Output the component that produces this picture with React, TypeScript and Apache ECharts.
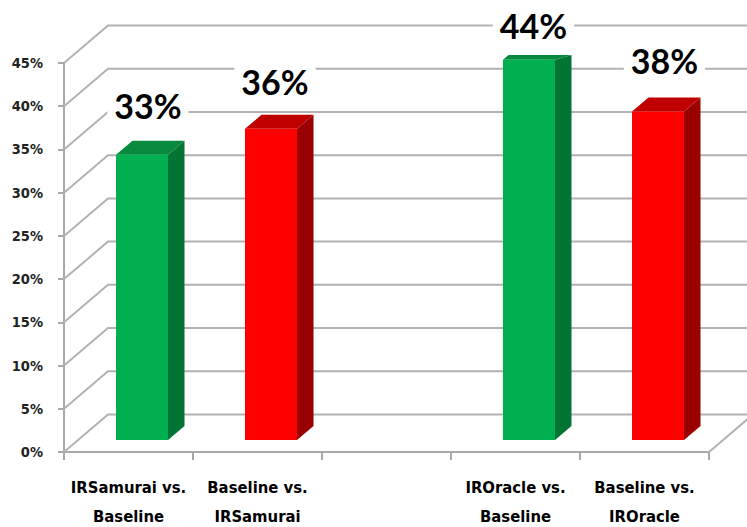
import React, { useEffect, useRef } from "react";
import * as echarts from "echarts";

const categories = [
  "IRSamurai vs.\nBaseline",
  "Baseline vs.\nIRSamurai",
  "",
  "IROracle vs.\nBaseline",
  "Baseline vs.\nIROracle",
];
const barCategoryIndex = [0, 1, 3, 4];
const barValues = [33, 36, 44, 38];
const barPalette = ["green", "red", "green", "red"];
const tickValues = [0, 5, 10, 15, 20, 25, 30, 35, 40, 45];

const SHADES: Record<string, { front: string; top: string; side: string }> = {
  green: { front: "#00b050", top: "#088a3e", side: "#027434" },
  red: { front: "#ff0000", top: "#c00000", side: "#9a0000" },
};

// Oblique projection of the 3D chart box.
const WALL_DX = 44;
const WALL_DY = -37.5;
const BAR_SHIFT_X = 13.5;
const BAR_SHIFT_Y = -12;
const BAR_WIDTH = 52;
const BAR_DX = 16.5;
const BAR_DY = -14;
const CEILING_Y = 55;
const GRID_COLOR = "#b2b2b2";
const AXIS_COLOR = "#a8a8a8";

// Hand placement of the value captions relative to each bar's front face.
const captionNudge = [
  [6, -49],
  [4, -47],
  [4.5, -34],
  [6.5, -51],
];

export default function App() {
  const ref = useRef<HTMLDivElement>(null);
  useEffect(() => {
    const chart = echarts.init(ref.current!, null, { renderer: "svg" });
    chart.setOption({
      animation: false,
      backgroundColor: "#ffffff",
      grid: { left: 64, right: 38, top: 63, bottom: 75, outerBoundsMode: "none" },
      xAxis: {
        type: "category",
        data: categories,
        axisLine: { lineStyle: { color: AXIS_COLOR, width: 2 } },
        axisTick: { show: true, alignWithLabel: false, length: 8, lineStyle: { color: AXIS_COLOR, width: 2 } },
        axisLabel: {
          interval: 0,
          margin: 21,
          color: "#000000",
          fontFamily: "'DejaVu Sans Condensed', 'DejaVu Sans'",
          fontWeight: "bold",
          fontSize: 16.5,
          lineHeight: 29,
        },
      },
      yAxis: {
        type: "value",
        min: 0,
        max: 45,
        interval: 5,
        splitLine: { show: false },
        axisLine: { show: true, lineStyle: { color: AXIS_COLOR, width: 2 } },
        axisTick: { show: true, length: 6, lineStyle: { color: AXIS_COLOR, width: 2 } },
        axisLabel: {
          margin: 21,
          color: "#222222",
          fontFamily: "'DejaVu Sans Condensed', 'DejaVu Sans'",
          fontWeight: "bold",
          fontSize: 14.5,
          padding: [5, 0, 0, 0],
          formatter: (v: number) => `${v}%`,
        },
      },
      series: [
        {
          // Side-wall diagonals and back-wall gridlines, one per tick.
          type: "custom",
          silent: true,
          z: 1,
          data: tickValues.map((v) => [0, v]),
          renderItem: (params: any, api: any) => {
            const sys = params.coordSys;
            const y = api.coord([0, api.value(1)])[1];
            const x0 = sys.x;
            const x1 = sys.x + sys.width;
            const children: any[] = [
              {
                type: "polyline",
                shape: {
                  points: [
                    [x0, y],
                    [x0 + WALL_DX, y + WALL_DY],
                    [x1 + WALL_DX, y + WALL_DY],
                  ],
                },
                style: { stroke: GRID_COLOR, lineWidth: 2, fill: "none" },
              },
            ];
            if (api.value(1) === 0) {
              children.push({
                type: "line",
                shape: { x1, y1: y, x2: x1 + WALL_DX, y2: y + WALL_DY },
                style: { stroke: GRID_COLOR, lineWidth: 2 },
              });
            }
            return { type: "group", children };
          },
        },
        {
          // Oblique bars: front face, top cap and side face.
          type: "custom",
          silent: true,
          z: 2,
          data: barValues.map((v, i) => [barCategoryIndex[i], v, i]),
          renderItem: (_params: any, api: any) => {
            const cat = api.value(0);
            const i = api.value(2);
            const shade = SHADES[barPalette[i]];
            const [cx, top0] = api.coord([cat, api.value(1)]);
            const base0 = api.coord([cat, 0])[1];
            const l = cx + BAR_SHIFT_X - BAR_WIDTH / 2;
            const r = l + BAR_WIDTH;
            const top = top0 + BAR_SHIFT_Y;
            const base = base0 + BAR_SHIFT_Y;
            const capY = Math.max(top + BAR_DY, CEILING_Y);
            const capDx = (BAR_DX * (top - capY)) / -BAR_DY;
            return {
              type: "group",
              children: [
                {
                  type: "polygon",
                  shape: { points: [[r, top], [r + BAR_DX, capY], [r + BAR_DX, base + BAR_DY], [r, base]] },
                  style: { fill: shade.side },
                },
                {
                  type: "polygon",
                  shape: { points: [[l, top], [l + capDx, capY], [r + BAR_DX, capY], [r, top]] },
                  style: { fill: shade.top },
                },
                {
                  type: "rect",
                  shape: { x: l, y: top, width: BAR_WIDTH, height: base - top },
                  style: { fill: shade.front },
                },
              ],
            };
          },
        },
        {
          // Value captions, each knocking out the gridlines behind it.
          type: "custom",
          silent: true,
          z: 3,
          data: barValues.map((v, i) => [barCategoryIndex[i], v, i]),
          renderItem: (_params: any, api: any) => {
            const i = api.value(2);
            const [cx, top0] = api.coord([api.value(0), api.value(1)]);
            const [nx, ny] = captionNudge[i];
            return {
              type: "text",
              x: cx + BAR_SHIFT_X + nx,
              y: top0 + BAR_SHIFT_Y + ny,
              style: {
                text: `${api.value(1)}%`,
                fill: "#000000",
                font: "bold 34px Lato",
                align: "center",
                verticalAlign: "middle",
                backgroundColor: "#ffffff",
                padding: [0, 7, 0, 7],
              },
            };
          },
        },
      ],
    });
    return () => chart.dispose();
  }, []);
  return <div ref={ref} style={{ position: "fixed", left: 0, top: 0, width: 747, height: 527 }} />;
}
